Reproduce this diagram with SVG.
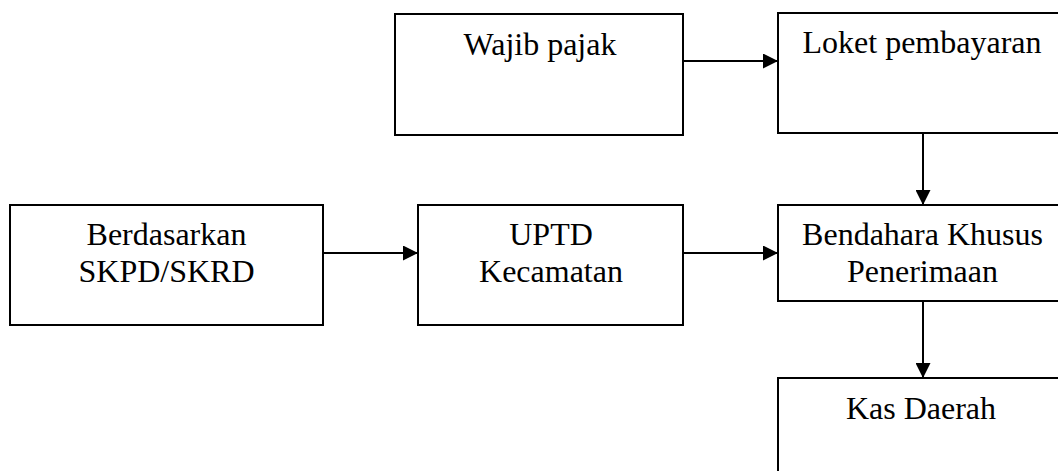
<svg xmlns="http://www.w3.org/2000/svg" width="1058" height="471" viewBox="0 0 1058 471">
  <style>
    .box { fill: #ffffff; stroke: #000000; stroke-width: 2; }
    .label { font-family: "Liberation Serif", "Times New Roman", serif; font-size: 32px; fill: #000000; text-anchor: middle; }
    .conn { stroke: #000000; stroke-width: 2; fill: none; marker-end: url(#arrow); }
  </style>
  <defs>
    <marker id="arrow" markerUnits="userSpaceOnUse" markerWidth="15" markerHeight="15" refX="15" refY="7.5" orient="auto">
      <path d="M0,0 L15,7.5 L0,15 z" fill="#000000"/>
    </marker>
  </defs>
  <rect width="1058" height="471" fill="#ffffff"/>

  <g id="wajib-pajak">
    <rect class="box" x="395" y="14" width="288" height="121"/>
    <text class="label" x="540" y="55">Wajib pajak</text>
  </g>

  <g id="loket-pembayaran">
    <rect class="box" x="778" y="13" width="290" height="120"/>
    <text class="label" x="922" y="53">Loket pembayaran</text>
  </g>

  <g id="berdasarkan">
    <rect class="box" x="10" y="205" width="313" height="120"/>
    <text class="label" x="166.5" y="245">Berdasarkan</text>
    <text class="label" x="166.5" y="282">SKPD/SKRD</text>
  </g>

  <g id="uptd-kecamatan">
    <rect class="box" x="418" y="205" width="265" height="120"/>
    <text class="label" x="551" y="245">UPTD</text>
    <text class="label" x="551" y="282">Kecamatan</text>
  </g>

  <g id="bendahara">
    <rect class="box" x="778" y="205" width="290" height="96"/>
    <text class="label" x="922.5" y="245">Bendahara Khusus</text>
    <text class="label" x="922.5" y="282">Penerimaan</text>
  </g>

  <g id="kas-daerah">
    <rect class="box" x="778" y="378" width="290" height="110"/>
    <text class="label" x="921" y="419">Kas Daerah</text>
  </g>

  <g id="connectors">
    <line class="conn" x1="683" y1="61" x2="778" y2="61"/>
    <line class="conn" x1="923" y1="133" x2="923" y2="205"/>
    <line class="conn" x1="323" y1="253" x2="418" y2="253"/>
    <line class="conn" x1="683" y1="253" x2="778" y2="253"/>
    <line class="conn" x1="923" y1="301" x2="923" y2="378"/>
  </g>
</svg>
